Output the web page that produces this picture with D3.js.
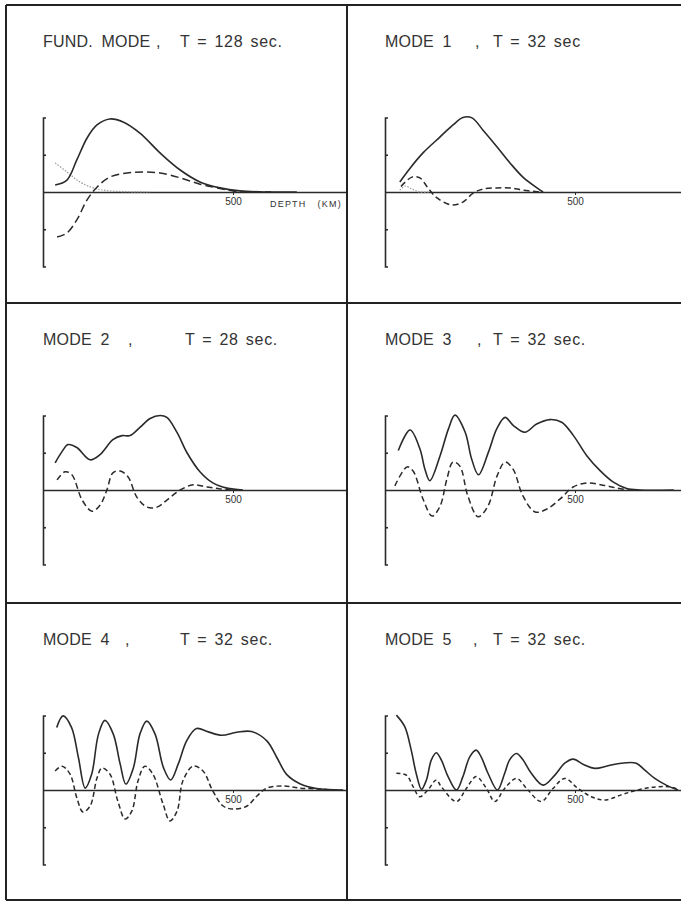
<!DOCTYPE html>
<html>
<head>
<meta charset="utf-8">
<script src="https://cdn.jsdelivr.net/npm/d3@7"></script>
<style>
  body { margin: 0; background: #fff; }
  text { font-family: "Liberation Sans", Arial, sans-serif; fill: #333; white-space: pre; }
</style>
</head>
<body>
<svg width="681" height="902"></svg>
<script>
/* Data: titles */
const modeNames = ["FUND. MODE", "MODE 1", "MODE 2", "MODE 3", "MODE 4", "MODE 5"];
const periods = ["T = 128 sec.", "T = 32 sec", "T = 28 sec.", "T = 32 sec.", "T = 32 sec.", "T = 32 sec."];
const depthTicks = [500];
const ampTicks = [-1, 1];

/* Data: [depth km, amplitude] */
const fundSolid = [[32,0.19],[63,0.32],[89,0.86],[116,1.45],[142,1.80],[176,1.96],[211,1.88],[255,1.58],[308,1.05],[361,0.59],[413,0.27],[466,0.11],[518,0.03],[590,0],[668,0]];
const fundDashed = [[37,-1.21],[63,-1.10],[89,-0.75],[116,-0.21],[142,0.13],[176,0.40],[221,0.51],[263,0.54],[308,0.51],[361,0.38],[413,0.21],[458,0.11],[500,0.03],[553,0],[600,0]];
const fundDotted = [[32,0.78],[63,0.54],[97,0.27],[132,0.11],[176,0.03],[282,0]];

const mode1Solid = [[39,0.27],[66,0.64],[100,1.05],[145,1.48],[179,1.80],[205,2.0],[229,1.99],[258,1.66],[295,1.21],[329,0.78],[363,0.40],[400,0.11],[416,0]];
const mode1Dashed = [[42,0.15],[71,0.40],[92,0.38],[113,0.11],[137,-0.16],[176,-0.35],[205,-0.27],[232,-0.03],[258,0.08],[295,0.11],[329,0.11],[363,0.05],[408,0]];
const mode1Dotted = [[39,0.05],[53,0.16],[71,0.08],[92,0],[118,0]];

const mode2Solid = [[32,0.73],[50,1.03],[66,1.22],[89,1.14],[124,0.81],[150,0.95],[184,1.35],[208,1.46],[229,1.46],[255,1.68],[282,1.92],[308,2.0],[326,1.95],[353,1.54],[379,1.0],[413,0.49],[447,0.19],[484,0.05],[526,0]];
const mode2Dashed = [[37,0.27],[58,0.49],[76,0.41],[103,-0.27],[129,-0.57],[150,-0.41],[168,0],[184,0.46],[203,0.51],[224,0.35],[247,-0.19],[274,-0.46],[300,-0.46],[326,-0.27],[361,0],[395,0.14],[432,0.08],[466,0.03],[500,0]];

const mode3Solid = [[35,1.06],[66,1.61],[92,1.10],[105,0.56],[118,0.25],[145,0.92],[167,1.64],[184,2.01],[211,1.55],[228,0.83],[246,0.41],[272,1.01],[294,1.64],[316,1.95],[338,1.73],[368,1.55],[399,1.77],[434,1.89],[465,1.82],[496,1.46],[531,0.92],[566,0.52],[601,0.21],[636,0.04],[671,0],[760,0]];
const mode3Dashed = [[26,0.11],[58,0.62],[74,0.51],[100,-0.24],[124,-0.70],[145,-0.43],[163,0.30],[179,0.75],[197,0.64],[218,-0.16],[245,-0.72],[271,-0.43],[295,0.38],[316,0.75],[337,0.56],[363,-0.16],[395,-0.59],[426,-0.51],[461,-0.24],[495,0.08],[532,0.19],[574,0.13],[611,0.05],[645,0]];

const mode4Solid = [[36,1.68],[53,1.99],[75,1.68],[93,0.88],[111,0.05],[128,0.42],[146,1.50],[163,1.87],[185,1.50],[203,0.70],[218,0.16],[238,0.60],[255,1.50],[273,1.85],[295,1.50],[317,0.60],[336,0.27],[356,0.70],[378,1.32],[404,1.65],[435,1.56],[470,1.47],[510,1.55],[549,1.57],[589,1.32],[615,0.88],[641,0.42],[676,0.17],[720,0.04],[790,0]];
const mode4Dashed = [[32,0.51],[50,0.64],[71,0.43],[89,-0.21],[105,-0.59],[124,-0.43],[142,0.32],[155,0.59],[176,0.43],[197,-0.30],[216,-0.78],[234,-0.56],[250,0.24],[268,0.64],[289,0.43],[316,-0.38],[334,-0.83],[353,-0.56],[368,0.24],[395,0.64],[421,0.51],[447,-0.03],[474,-0.43],[500,-0.51],[537,-0.43],[563,-0.16],[589,0.05],[632,0.11],[676,0.05],[721,0.03],[763,0]];

const mode5Solid = [[30,2.01],[52,1.70],[69,1.07],[82,0.45],[96,0.02],[109,0.27],[122,0.81],[135,1.0],[148,0.81],[166,0.36],[188,0],[205,0.36],[223,0.89],[240,1.07],[253,0.89],[271,0.45],[296,0],[315,0.45],[328,0.81],[346,0.98],[363,0.81],[385,0.45],[416,0.13],[447,0.40],[473,0.72],[495,0.83],[525,0.67],[552,0.58],[587,0.65],[622,0.72],[661,0.72],[683,0.54],[710,0.31],[740,0.13],[771,0]];
const mode5Dashed = [[30,0.45],[56,0.40],[74,0.09],[91,-0.18],[113,0],[135,0.27],[148,0.09],[188,-0.31],[214,0.04],[240,0.36],[267,0.04],[289,-0.31],[315,0.04],[346,0.31],[376,0],[411,-0.31],[442,0.04],[473,0.31],[508,0.04],[543,-0.18],[578,-0.27],[622,-0.13],[657,-0.02],[701,0.07],[745,0.09],[771,0.02]];

/* Layout */
const colX = [43, 385];
const rowTop = [5, 303, 603];
const pxPerKm = 0.38;
const halfH = 74.5;

const panels = [
  { col: 0, row: 0, solid: fundSolid, dashed: fundDashed, dotted: fundDotted, dash: "8,4", comma: 113, tx: 137, depthLabel: true },
  { col: 1, row: 0, solid: mode1Solid, dashed: mode1Dashed, dotted: mode1Dotted, dash: "6,3.5", comma: 90, tx: 108 },
  { col: 0, row: 1, solid: mode2Solid, dashed: mode2Dashed, dash: "6,3.5", comma: 85, tx: 142 },
  { col: 1, row: 1, solid: mode3Solid, dashed: mode3Dashed, dash: "6,3.5", comma: 92, tx: 108 },
  { col: 0, row: 2, solid: mode4Solid, dashed: mode4Dashed, dash: "5,3", comma: 82, tx: 137 },
  { col: 1, row: 2, solid: mode5Solid, dashed: mode5Dashed, dash: "4,3", comma: 88, tx: 108 }
];

const svg = d3.select("svg");

panels.forEach((p, i) => {
  const ax = colX[p.col];
  const zero = rowTop[p.row] + 187;
  const x = d3.scaleLinear().domain([0, 800]).range([ax, ax + 800 * pxPerKm]);
  const y = d3.scaleLinear().domain([-2, 2]).range([zero + halfH, zero - halfH]);
  const g = svg.append("g");

  /* title */
  const ty = rowTop[p.row] + 42;
  g.append("text").attr("x", ax).attr("y", ty)
    .attr("font-size", 16).attr("letter-spacing", 0.2).attr("word-spacing", 4).text(modeNames[i]);
  g.append("text").attr("x", ax + p.comma).attr("y", ty)
    .attr("font-size", 16).text(",");
  g.append("text").attr("x", ax + p.tx).attr("y", ty)
    .attr("font-size", 16).attr("letter-spacing", 0.7).attr("word-spacing", 2).text(periods[i]);

  /* y axis bracket */
  g.append("g").attr("transform", `translate(${ax},0)`)
    .call(d3.axisRight(y).tickValues(ampTicks).tickSize(3).tickSizeOuter(3).tickFormat(""))
    .call(s => s.selectAll("path, line").attr("stroke", "#2a2a2a").attr("stroke-width", 1.6));

  /* depth axis on the zero line */
  const xa = g.append("g").attr("transform", `translate(0,${zero})`)
    .call(d3.axisBottom(x).tickValues(depthTicks).tickSize(3).tickSizeOuter(0).tickFormat(d3.format("d")));
  xa.selectAll("path").attr("stroke", "#2a2a2a").attr("stroke-width", 1.6);
  xa.selectAll("line").attr("stroke", "#2a2a2a").attr("stroke-width", 1);
  xa.selectAll("text").attr("font-family", "Liberation Sans, Arial, sans-serif")
    .attr("font-size", 10).attr("fill", "#333").attr("y", 6).attr("dy", "0.71em");

  if (p.depthLabel) {
    g.append("text").attr("x", ax + 227).attr("y", zero + 15)
      .attr("font-size", 9).attr("letter-spacing", 1.2).text("DEPTH   (KM)");
  }

  const line = d3.line().x(d => x(d[0])).y(d => y(d[1])).curve(d3.curveCatmullRom.alpha(0.5));

  if (p.dotted) {
    g.append("path").attr("d", line(p.dotted)).attr("fill", "none")
      .attr("stroke", "#9a9a9a").attr("stroke-width", 1.2).attr("stroke-dasharray", "1.5,1.5");
  }
  g.append("path").attr("d", line(p.dashed)).attr("fill", "none")
    .attr("stroke", "#2a2a2a").attr("stroke-width", 1.5).attr("stroke-dasharray", p.dash);
  g.append("path").attr("d", line(p.solid)).attr("fill", "none")
    .attr("stroke", "#2a2a2a").attr("stroke-width", 1.6);
});

/* panel frame */
const frame = [
  [6, 5, 681, 5], [6, 303, 681, 303], [6, 603, 681, 603], [6, 900, 681, 900],
  [6, 5, 6, 900], [347, 5, 347, 900]
];
svg.append("g").selectAll("line").data(frame).join("line")
  .attr("x1", d => d[0]).attr("y1", d => d[1]).attr("x2", d => d[2]).attr("y2", d => d[3])
  .attr("stroke", "#222").attr("stroke-width", 2);
</script>
</body>
</html>
